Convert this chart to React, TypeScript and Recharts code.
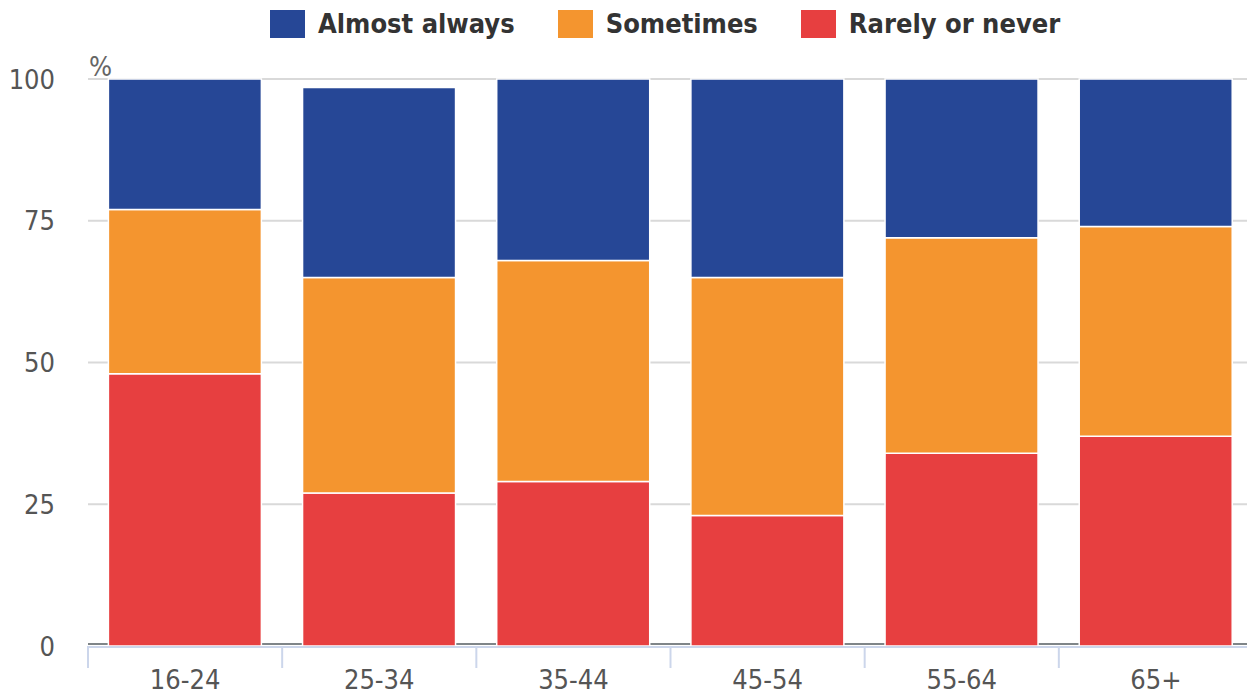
import { BarChart, Bar, XAxis, YAxis, CartesianGrid } from 'recharts';

const ageGroups = ['16-24', '25-34', '35-44', '45-54', '55-64', '65+'];
const rarelyOrNever = [48, 27, 29, 23, 34, 37];
const sometimes = [29, 38, 39, 42, 38, 37];
const almostAlways = [23, 33.5, 32, 35, 28, 26];
const yTicks = [0, 25, 50, 75, 100];

const FONT = '"DejaVu Sans Condensed", "DejaVu Sans", sans-serif';

const series = [
  { key: 'almost', name: 'Almost always', color: '#264796' },
  { key: 'sometimes', name: 'Sometimes', color: '#f4952f' },
  { key: 'rarely', name: 'Rarely or never', color: '#e73f40' },
];

const data = ageGroups.map((age, i) => ({
  age,
  rarely: rarelyOrNever[i],
  sometimes: sometimes[i],
  almost: almostAlways[i],
}));

const WIDTH = 1247;
const HEIGHT = 687;
const MARGIN = { top: 71, right: 2, left: 0, bottom: 0 };
const Y_AXIS_W = 80;
const X_AXIS_H = 49;
const band = (WIDTH - MARGIN.right - MARGIN.left - Y_AXIS_W) / ageGroups.length;
const plotBottom = HEIGHT - MARGIN.bottom - X_AXIS_H;

// category label plus the boundary ticks on either side of the band
function AgeTick(props: any) {
  const { x, y, payload, index } = props;
  const left = x - band / 2;
  const right = x + band / 2;
  return (
    <g>
      <line x1={left} x2={right} y1={y + 1} y2={y + 1} stroke="#ccd6eb" strokeWidth={2} />
      <line x1={left} x2={left} y1={y} y2={y + 22} stroke="#ccd6eb" strokeWidth={2} />
      {index === ageGroups.length - 1 && (
        <line x1={right} x2={right} y1={y} y2={y + 22} stroke="#ccd6eb" strokeWidth={2} />
      )}
      <text x={x} y={y + 43} textAnchor="middle" fill="#555" fontSize={27} fontFamily={FONT}>
        {payload.value}
      </text>
    </g>
  );
}

function GridLine(props: any) {
  const { x1, x2, y1, y2 } = props;
  const isBase = Math.abs(y1 - plotBottom) < 2;
  return (
    <line
      x1={x1}
      x2={x2}
      y1={isBase ? y1 - 2 : y1}
      y2={isBase ? y2 - 2 : y2}
      stroke={isBase ? '#7f8588' : '#d9d9d9'}
      strokeWidth={2}
    />
  );
}

function TopLegend() {
  return (
    <div
      style={{
        position: 'absolute',
        left: 262,
        top: 0,
        display: 'flex',
        alignItems: 'center',
        gap: 43,
        fontFamily: FONT,
      }}
    >
      {series.map((s) => (
        <span key={s.key} style={{ display: 'inline-flex', alignItems: 'center' }}>
          <span style={{ width: 35, height: 28, background: s.color, marginRight: 13, display: 'inline-block' }} />
          <span style={{ fontSize: 27, fontWeight: 700, color: '#333' }}>{s.name}</span>
        </span>
      ))}
    </div>
  );
}

export default function App() {
  return (
    <div style={{ position: 'relative', width: WIDTH, height: HEIGHT }}>
      <BarChart
        width={WIDTH}
        height={HEIGHT}
        data={data}
        margin={MARGIN}
        barCategoryGap="10.5%"
      >
        <CartesianGrid vertical={false} horizontal={(p: any) => <GridLine key={p.key ?? p.index} {...p} />} />
        <XAxis
          dataKey="age"
          height={X_AXIS_H}
          axisLine={false}
          tickLine={false}
          tickSize={0}
          tickMargin={0}
          interval={0}
          tick={<AgeTick />}
        />
        <YAxis
          width={Y_AXIS_W}
          domain={[0, 100]}
          ticks={yTicks}
          axisLine={false}
          tickLine={false}
          tickSize={6}
          tickMargin={27}
          tick={{ fill: '#555', fontSize: 27, fontFamily: FONT }}
        />
        <Bar dataKey="rarely" name="Rarely or never" stackId="a" fill="#e73f40" stroke="#fff" strokeWidth={1.5} isAnimationActive={false} />
        <Bar dataKey="sometimes" name="Sometimes" stackId="a" fill="#f4952f" stroke="#fff" strokeWidth={1.5} isAnimationActive={false} />
        <Bar dataKey="almost" name="Almost always" stackId="a" fill="#264796" stroke="#fff" strokeWidth={1.5} isAnimationActive={false} />
      </BarChart>
      <TopLegend />
      <span
        style={{
          position: 'absolute',
          left: 81,
          top: 43,
          fontSize: 27,
          color: '#666',
          fontFamily: FONT,
        }}
      >
        %
      </span>
    </div>
  );
}
